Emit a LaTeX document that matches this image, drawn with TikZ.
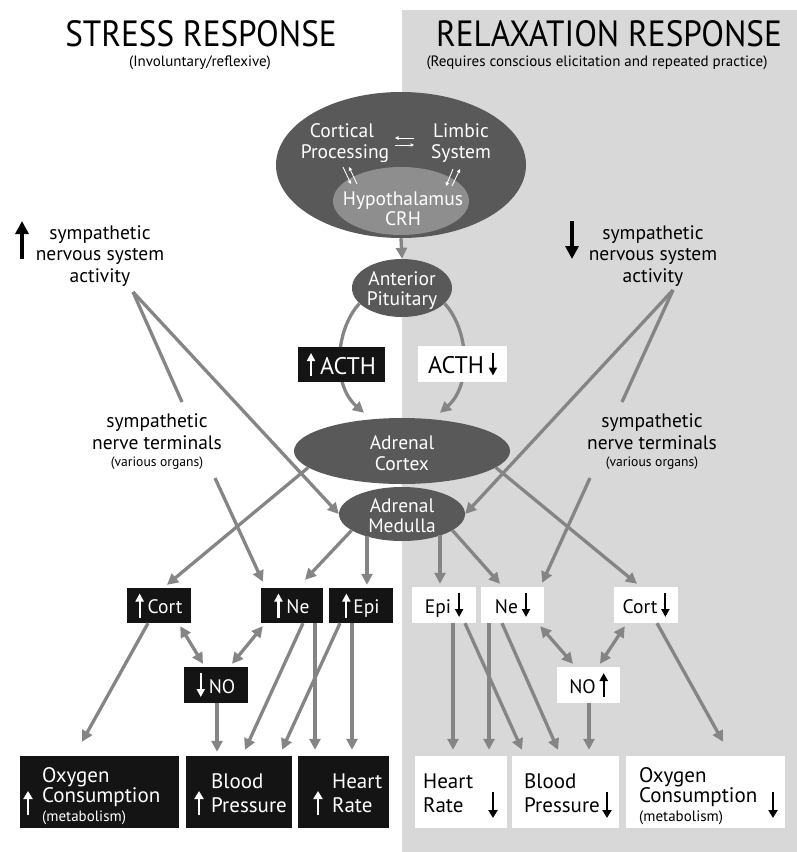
\documentclass[tikz,border=0pt]{standalone}
\usepackage{fontspec}
\setmainfont{PT Sans}
\newfontfamily\condfont[FakeStretch=0.91]{PT Sans}
\usetikzlibrary{shapes.geometric,arrows.meta,calc}
\definecolor{bggray}{HTML}{D8D8D8}
\definecolor{argray}{HTML}{858585}
\definecolor{elldark}{HTML}{595959}
\definecolor{elllight}{HTML}{8E8E8E}
\definecolor{boxblack}{HTML}{141414}
\newcommand\myfs[1]{\fontsize{#1pt}{#1pt}\selectfont}
\newcommand\bxup[3]{\tikz[baseline=0pt]\draw[#1,line width=2.2pt,-{Triangle[length=8pt,width=8pt]}] (0pt,#2)--(0pt,#3);}
\newcommand\bxdn[3]{\tikz[baseline=0pt]\draw[#1,line width=2.2pt,-{Triangle[length=8pt,width=8pt]}] (0pt,#3)--(0pt,#2);}
\begin{document}
\begin{tikzpicture}[x=1pt,y=-1pt,
  txt/.style={inner sep=0pt, anchor=base, font=\myfs{19.5}},
  wtxt/.style={txt, text=white},
  lbtxt/.style={inner sep=0pt, anchor=base west, font=\myfs{21}, text=#1},
  mtxt/.style={inner sep=0pt, anchor=base west, font=\myfs{15}, text=#1},
  smtxt/.style={inner sep=0pt, anchor=base, font=\myfs{13.6}},
  ttl/.style={inner sep=0pt, anchor=base, font=\condfont\myfs{36.5}},
  subt/.style={inner sep=0pt, anchor=base, font=\myfs{15}},
  organ/.style={ellipse, fill=elldark, inner sep=0pt},
  blk/.style={rectangle, fill=boxblack, text=white, inner sep=0pt, font=\myfs{19.5}},
  wht/.style={rectangle, fill=white, text=black, inner sep=0pt, font=\myfs{19.5}},
  conn/.style={draw=argray, line width=3.3pt, -{Triangle[length=11pt,width=11pt]}},
  dconn/.style={draw=argray, line width=3.3pt, {Triangle[length=11pt,width=11pt]}-{Triangle[length=11pt,width=11pt]}},
  plainline/.style={draw=argray, line width=3.3pt},
  smallw/.style={draw=white, line width=0.9pt, -{Triangle[length=3.5pt,width=3.5pt]}},
  garrow/.style={draw=#1, line width=2.4pt, -{Triangle[length=8pt,width=9pt]}},
  bigarrow/.style={draw=black, line width=4pt, -{Triangle[length=13pt,width=13pt]}}
]
\useasboundingbox (0,0) rectangle (797,852);
\fill[bggray] (402,10) rectangle (797,852);

% titles
\node[ttl] (t1) at (201,46) {STRESS RESPONSE};
\node[subt] (s1) at (200,66) {(Involuntary/reflexive)};
\node[ttl] (t2) at (609,46) {RELAXATION RESPONSE};
\node[subt] (s2) at (597,66) {(Requires conscious elicitation and repeated practice)};

% brain
\node[organ, minimum width=250pt, minimum height=146pt] (brain) at (401,165) {};
\node[ellipse, fill=elllight, inner sep=0pt, minimum width=136pt, minimum height=68pt] (hyp) at (401,201) {};
\node[wtxt] (cp1) at (342,137) {Cortical};
\node[wtxt] (cp2) at (345,158) {Processing};
\node[wtxt] (lb1) at (461,137) {Limbic};
\node[wtxt] (lb2) at (461,158) {System};
\node[wtxt] (hy1) at (403,205) {Hypothalamus};
\node[wtxt] (hy2) at (403,225.5) {CRH};
\draw[smallw] (414,138) -- (395,138);
\draw[smallw] (395,145) -- (414,145);
\draw[smallw] (343,167) -- (351,184);
\draw[smallw] (357,184) -- (349,167);
\draw[smallw] (453,169) -- (446,186);
\draw[smallw] (452,186) -- (460,169);

% pituitary, adrenal
\node[organ, minimum width=100pt, minimum height=58pt] (pit) at (402,288) {};
\node[wtxt] (pt1) at (402,285) {Anterior};
\node[wtxt] (pt2) at (402,305) {Pituitary};
\node[organ, minimum width=216pt, minimum height=66pt] (cortex) at (402,451) {};
\node[wtxt] (cx1) at (402,449) {Adrenal};
\node[wtxt] (cx2) at (402,470) {Cortex};
\node[organ, minimum width=126pt, minimum height=54pt] (medulla) at (402,514) {};
\node[wtxt] (md1) at (402,512) {Adrenal};
\node[wtxt] (md2) at (402,532) {Medulla};

% sympathetic texts
\node[txt] (sl1) at (100,239) {sympathetic};
\node[txt] (sl2) at (100,260) {nervous system};
\node[txt] (sl3) at (100,282) {activity};
\node[txt] (sr1) at (653,239) {sympathetic};
\node[txt] (sr2) at (653,260) {nervous system};
\node[txt] (sr3) at (653,282) {activity};
\node[txt] (tl1) at (157,427) {sympathetic};
\node[txt] (tl2) at (157,449) {nerve terminals};
\node[smtxt] (tl3) at (157,466) {(various organs)};
\node[txt] (tr1) at (652,427) {sympathetic};
\node[txt] (tr2) at (652,449) {nerve terminals};
\node[smtxt] (tr3) at (652,466) {(various organs)};
\draw[bigarrow] (22,259) -- (22,221);
\draw[bigarrow] (572,221) -- (572,259);

\coordinate (aL) at (133,292);
\coordinate (tLtop) at (182,402);
\coordinate (tLbot) at (215,478);
\coordinate (aR) at (673,290);
\coordinate (tRtop) at (622,402);
\coordinate (tRbot) at (590,478);

% small boxes
\node[blk, minimum width=64pt, minimum height=35pt] (cortL) at (159,605.5) {\bxup{white}{-4pt}{20pt}\hspace{4pt}Cort};
\node[blk, minimum width=62pt, minimum height=35pt] (neL) at (292,605.5) {\bxup{white}{-4pt}{20pt}\hspace{4pt}Ne};
\node[blk, minimum width=64pt, minimum height=35pt] (epiL) at (361,605.5) {\bxup{white}{-4pt}{20pt}\hspace{3pt}Epi};
\node[blk, minimum width=64pt, minimum height=36pt] (noL) at (216,685) {\bxdn{white}{-4pt}{20pt}\hspace{4pt}NO};
\node[wht, minimum width=64pt, minimum height=36pt] (epiR) at (444,605) {Epi\hspace{4pt}\bxdn{black}{-4pt}{20pt}};
\node[wht, minimum width=63pt, minimum height=36pt] (neR) at (512.5,605) {Ne\hspace{4pt}\bxdn{black}{-4pt}{20pt}};
\node[wht, minimum width=64pt, minimum height=36pt] (cortR) at (646,605) {Cort\hspace{4pt}\bxdn{black}{-4pt}{20pt}};
\node[wht, minimum width=63pt, minimum height=36pt] (noR) at (588.5,685) {NO\hspace{4pt}\bxup{black}{-4pt}{20pt}};

% bottom boxes
\node[blk, minimum width=159pt, minimum height=72pt] (oxyL) at (99.5,792) {};
\node[lbtxt=white] (oxyL1) at (42,782) {Oxygen};
\node[lbtxt=white] (oxyL2) at (42,802) {Consumption};
\node[mtxt=white] (oxyL3) at (42,821) {(metabolism)};
\draw[garrow=white] (28,815) -- (28,791);
\node[blk, minimum width=106pt, minimum height=72pt] (bpL) at (239,792) {};
\node[lbtxt=white] (bpL1) at (211,788) {Blood};
\node[lbtxt=white] (bpL2) at (211,812) {Pressure};
\draw[garrow=white] (199,815) -- (199,791);
\node[blk, minimum width=91pt, minimum height=72pt] (hrL) at (343.5,792) {};
\node[lbtxt=white] (hrL1) at (332,788) {Heart};
\node[lbtxt=white] (hrL2) at (332,812) {Rate};
\draw[garrow=white] (318,815) -- (318,791);
\node[wht, minimum width=92pt, minimum height=72pt] (hrR) at (461,792) {};
\node[lbtxt=black] (hrR1) at (423,788) {Heart};
\node[lbtxt=black] (hrR2) at (423,812) {Rate};
\draw[garrow=black] (493,792) -- (493,818);
\node[wht, minimum width=107pt, minimum height=72pt] (bpR) at (565.5,792) {};
\node[lbtxt=black] (bpR1) at (524,788) {Blood};
\node[lbtxt=black] (bpR2) at (524,812) {Pressure};
\draw[garrow=black] (607,792) -- (607,818);
\node[wht, minimum width=159pt, minimum height=72pt] (oxyR) at (705.5,792) {};
\node[lbtxt=black] (oxyR1) at (639,782) {Oxygen};
\node[lbtxt=black] (oxyR2) at (639,802) {Consumption};
\node[mtxt=black] (oxyR3) at (639,821) {(metabolism)};
\draw[garrow=black] (773,792) -- (773,818);

% connectors
\draw[conn] (brain.south) -- (pit.north);
\draw[conn] (pit.200) .. controls (335,330) and (332,385) .. ([xshift=-38pt,yshift=5pt]cortex.north);
\draw[conn] (pit.340) .. controls (469,330) and (472,385) .. ([xshift=38pt,yshift=5pt]cortex.north);
\draw[plainline] (aL) -- (tLtop);
\draw[conn] (aL) -- (medulla.west);
\draw[conn] (tLbot) -- ([xshift=2pt,yshift=6pt]neL.north west);
\draw[conn] (cortex.190) -- ([xshift=8pt,yshift=3pt]cortL.north);
\draw[conn] (medulla.198) -- ([xshift=13pt,yshift=8pt]neL.north);
\draw[conn] ($(medulla.center)+(-35,22)$) -- ([xshift=6pt,yshift=3pt]epiL.north);
\draw[conn] ([xshift=-11pt]cortL.south) -- ([xshift=-17.5pt,yshift=14pt]oxyL.north);
\draw[dconn] ([xshift=-11pt,yshift=-3pt]cortL.south east) -- ([xshift=-13pt,yshift=3pt]noL.north);
\draw[dconn] ([xshift=2pt,yshift=-3pt]neL.south west) -- ([xshift=16pt,yshift=3pt]noL.north);
\draw[conn] ([xshift=1pt]noL.south) -- ([xshift=-22pt,yshift=4pt]bpL.north);
\draw[conn] ([xshift=11pt]neL.south) -- ([xshift=6pt,yshift=6pt]bpL.north);
\draw[conn] ([xshift=23pt]neL.south) -- ([xshift=-28.5pt,yshift=6pt]hrL.north);
\draw[conn] ([xshift=-21pt]epiL.south) -- ([xshift=43pt,yshift=6pt]bpL.north);
\draw[conn] ([xshift=-9pt]epiL.south) -- ([xshift=8.5pt,yshift=6pt]hrL.north);

\draw[plainline] (aR) -- (tRtop);
\draw[conn] (aR) -- (medulla.east);
\draw[conn] (tRbot) -- ([xshift=-2pt,yshift=4pt]neR.north east);
\draw[conn] (cortex.350) -- ([xshift=-9pt,yshift=3pt]cortR.north);
\draw[conn] ($(medulla.center)+(38,21)$) -- ([xshift=-4pt,yshift=3pt]epiR.north);
\draw[conn] (medulla.342) -- ([xshift=-12.5pt,yshift=3pt]neR.north);
\draw[conn] ([xshift=11pt]cortR.south) -- ([xshift=17.5pt,yshift=14pt]oxyR.north);
\draw[dconn] ([xshift=-4pt,yshift=-3pt]neR.south east) -- ([xshift=-15.5pt,yshift=3pt]noR.north);
\draw[dconn] ([xshift=11pt,yshift=-3pt]cortR.south west) -- ([xshift=11.5pt,yshift=3pt]noR.north);
\draw[conn] ([xshift=0.5pt]noR.south) -- ([xshift=23.5pt,yshift=6pt]bpR.north);
\draw[conn] ([xshift=9pt]epiR.south) -- ([xshift=-8pt,yshift=6pt]hrR.north);
\draw[conn] ([xshift=21pt]epiR.south) -- ([xshift=-43.5pt,yshift=6pt]bpR.north);
\draw[conn] ([xshift=-23.5pt]neR.south) -- ([xshift=28pt,yshift=6pt]hrR.north);
\draw[conn] ([xshift=-10.5pt]neR.south) -- ([xshift=-7.5pt,yshift=6pt]bpR.north);

% ACTH boxes on top of the curves
\node[blk, minimum width=87pt, minimum height=35pt, font=\myfs{24}] (acthL) at (341.5,364.5) {\bxup{white}{-2pt}{21pt}\hspace{5pt}ACTH};
\node[wht, minimum width=89pt, minimum height=36pt, font=\myfs{24}] (acthR) at (462.5,364) {ACTH\hspace{5pt}\bxdn{black}{-2pt}{21pt}};
\end{tikzpicture}
\end{document}
